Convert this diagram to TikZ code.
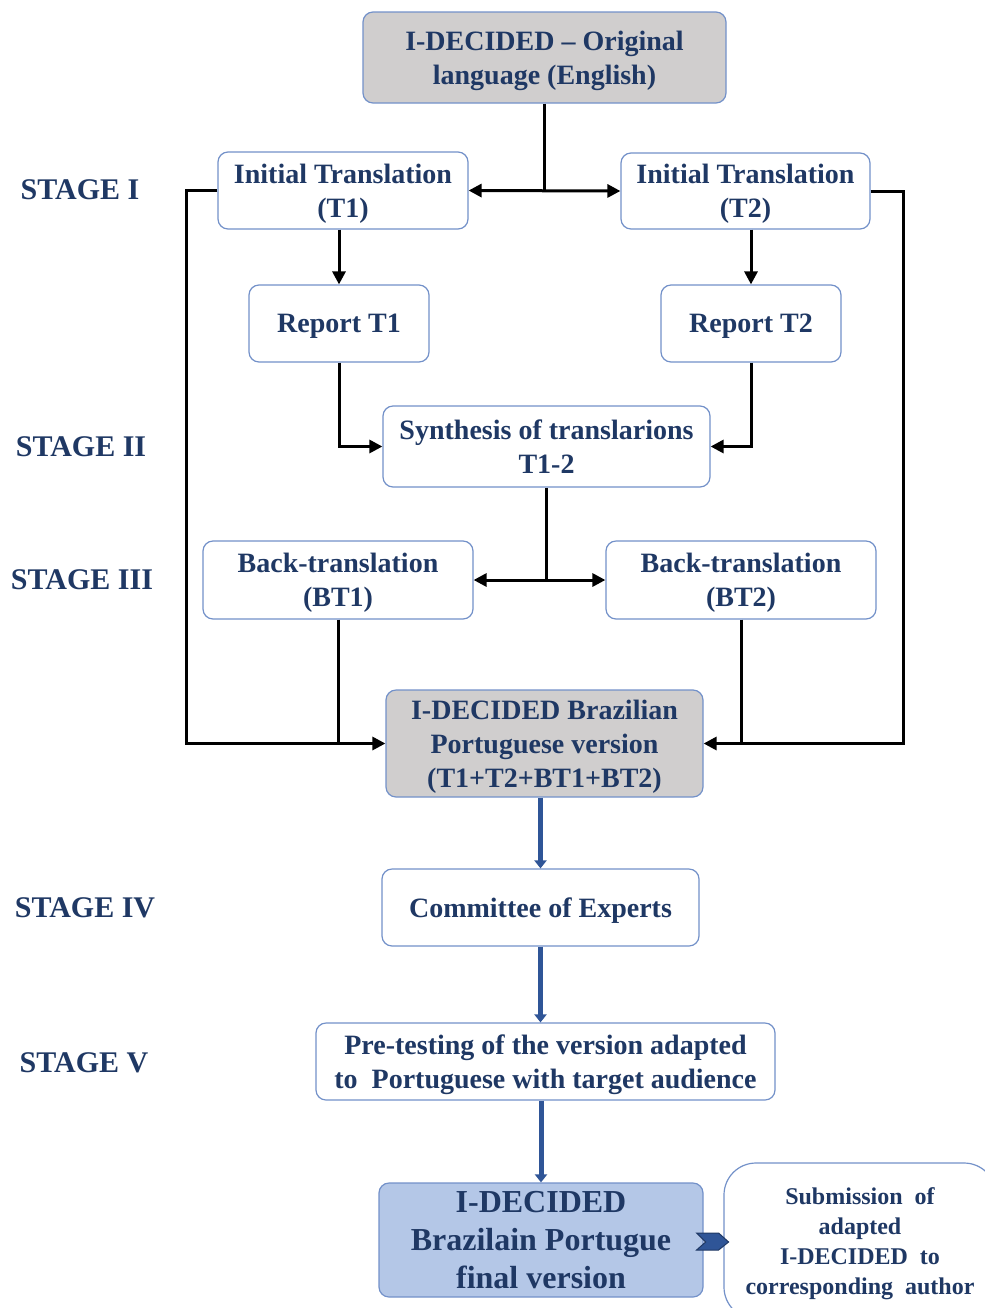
\documentclass[tikz,border=0pt]{standalone}
\usepackage{fontspec}
\setmainfont{Liberation Serif}
\usetikzlibrary{positioning,arrows.meta,calc}
\definecolor{navy}{HTML}{1F3864}
\definecolor{edgeblue}{HTML}{7391C9}
\definecolor{boxgray}{HTML}{D0CECE}
\definecolor{finalblue}{HTML}{B4C7E7}
\definecolor{flowblue}{HTML}{2F5597}

\begin{document}
\begin{tikzpicture}[x=0.5pt,y=-0.5pt,
    stepbox/.style={rectangle,rounded corners=5pt,draw=edgeblue,line width=0.6pt,fill=white,text=navy,align=center,inner sep=0pt,text depth=0pt,font=\fontsize{14}{17}\selectfont\bfseries},
    graybox/.style={stepbox,fill=boxgray},
    stage/.style={text=navy,font=\fontsize{15}{18}\selectfont\bfseries},
    link/.style={line width=1.5pt,black},
    arr/.style={link,-{Triangle[length=6.5pt,width=6.5pt]}},
    dbl/.style={link,{Triangle[length=6.5pt,width=6.5pt]}-{Triangle[length=6.5pt,width=6.5pt]}},
    flow/.style={line width=2.5pt,flowblue,-{Triangle[length=4pt,width=6pt]}}
]
    \useasboundingbox (0,0) rectangle (985,1308);

    % boxes
    \node[graybox,minimum width=181.5pt,minimum height=45.5pt] (orig) at (544.5,57.5) {I-DECIDED -- Original\\language (English)};
    \node[stepbox,minimum width=125pt,minimum height=38.5pt] (t1) at (343,190.5) {Initial Translation\\(T1)};
    \node[stepbox,minimum width=124.5pt,minimum height=38pt] (t2) at (745.5,191) {Initial Translation\\(T2)};
    \node[stepbox,minimum width=90pt,minimum height=38.5pt] (rep1) at (339,323.5) {Report T1};
    \node[stepbox,minimum width=90pt,minimum height=38.5pt] (rep2) at (751,323.5) {Report T2};
    \node[stepbox,minimum width=163.5pt,minimum height=40.5pt] (synth) at (546.5,446.5) {Synthesis of translarions\\T1-2};
    \node[stepbox,minimum width=135pt,minimum height=39pt] (bt1) at (338,580) {Back-translation\\(BT1)};
    \node[stepbox,minimum width=135pt,minimum height=39pt] (bt2) at (741,580) {Back-translation\\(BT2)};
    \node[graybox,minimum width=158.5pt,minimum height=53.5pt] (brz) at (544.5,743.5) {I-DECIDED Brazilian\\Portuguese version\\(T1+T2+BT1+BT2)};
    \node[stepbox,minimum width=158.5pt,minimum height=38.5pt] (comm) at (540.5,907.5) {Committee of Experts};
    \node[stepbox,minimum width=229.5pt,minimum height=38.5pt] (pre) at (545.5,1061.5) {Pre-testing of the version adapted\\to\ \ Portuguese with target audience};
    \node[stepbox,fill=finalblue,minimum width=162pt,minimum height=57pt,font=\fontsize{16}{19}\selectfont\bfseries] (final) at (541,1240) {I-DECIDED\\Brazilain Portugue\\final version};
    \node[stepbox,rounded corners=16pt,minimum width=136pt,minimum height=78pt,font=\fontsize{12}{15}\selectfont\bfseries] (subm) at (860,1241) {Submission\ \ of\\adapted\\I-DECIDED\ \ to\\corresponding\ \ author};

    % stages
    \node[stage] (st1) at (80,190) {STAGE I};
    \node[stage] (st2) at (81,447) {STAGE II};
    \node[stage] (st3) at (82,580) {STAGE III};
    \node[stage] (st4) at (85,908) {STAGE IV};
    \node[stage] (st5) at (84,1063) {STAGE V};

    % rails for the loops
    \coordinate (lrail) at (186,0);
    \coordinate (rrail) at (903,0);

    % connectors
    \draw[link] (orig.south) -- (orig.south |- t1.east);
    \draw[dbl] (t1.east) -- (t2.west);
    \draw[arr] (rep1.north |- t1.south) -- (rep1.north);
    \draw[arr] (rep2.north |- t2.south) -- (rep2.north);
    \draw[arr] (rep1.south) |- (synth.west);
    \draw[arr] (rep2.south) |- (synth.east);
    \draw[link] (synth.south) -- (synth.south |- bt1.east);
    \draw[dbl] (bt1.east) -- (bt2.west);
    \draw[arr] (t1.west) -| (lrail |- brz.west) -- (brz.west);
    \draw[arr] (t2.east) -| (rrail |- brz.east) -- (brz.east);
    \draw[link] (bt1.south) -- (bt1.south |- brz.west);
    \draw[link] (bt2.south) -- (bt2.south |- brz.east);
    \draw[flow] (comm.north |- brz.south) -- (comm.north);
    \draw[flow] (comm.south) -- (comm.south |- pre.north);
    \draw[flow] (final.north |- pre.south) -- (final.north);
    \draw[fill=flowblue,draw=navy,line width=0.5pt] ($(final.east)+(-7,-7)$) -- ++(22,0) -- ++(10,9) -- ++(-10,8) -- ++(-22,0) -- ++(9,-8) -- cycle;
\end{tikzpicture}
\end{document}
